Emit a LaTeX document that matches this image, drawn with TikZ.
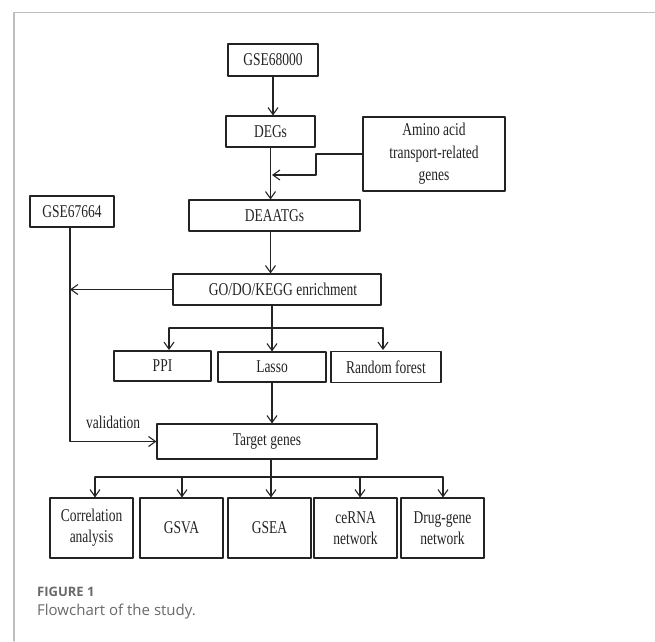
\documentclass[tikz,border=0pt]{standalone}
\usepackage{fontspec}
\setmainfont{Liberation Serif}[FakeStretch=0.75]
\newfontfamily\capfont{Open Sans}
\usetikzlibrary{arrows.meta}
\definecolor{ink}{RGB}{35,35,35}
\definecolor{frame}{RGB}{190,190,190}
\definecolor{capgray}{RGB}{105,105,105}

\begin{document}
\begin{tikzpicture}[x=1pt,y=1pt,line cap=round,line join=round,
  box/.style={draw=ink,line width=1.1pt,text=ink,inner sep=0pt,align=center,
    font=\fontsize{18}{21}\selectfont,minimum height=31pt},
  flow/.style={draw=ink,line width=1.1pt,-{Straight Barb[length=7pt,width=10pt,line width=1.1pt]}},
  link/.style={draw=ink,line width=1.1pt}]
\useasboundingbox (0,0) rectangle (655,641);
\draw[frame,line width=1.2pt] (655,628.5) -- (14,628.5) -- (14,0);
% upper part
\node[box,minimum width=90pt,minimum height=32pt] (gse68) at (273,581) {GSE68000};
\node[box,minimum width=89pt] (degs) at (270.5,509.5) {DEGs};
\node[box,minimum width=142pt,minimum height=74pt,font=\fontsize{18}{22.5}\selectfont] (amino) at (434,487) {Amino acid\\transport-related\\genes};
\node[box,minimum width=171pt] (deaatg) at (274.5,425.5) {DEAATGs};
\node[box,minimum width=84pt] (gse67) at (72,429.5) {GSE67664};
\node[box,minimum width=208pt] (enrich) at (277,351.5) {\hspace{12pt}GO/DO/KEGG enrichment};
\coordinate (join) at (272,466);
\coordinate (bend) at (316,466);
\draw[flow] (gse68.south) -- (gse68.south |- degs.north);
\draw[link] (degs.south) -- (degs.south |- deaatg.north);
\draw[flow] (degs.south |- join) -- (degs.south |- deaatg.north);
\draw[flow] (amino.west) -| (bend) -- (join);
\draw[flow] (deaatg.south -| degs.south) -- (enrich.north -| degs.south);
\draw[flow] (enrich.west) -- (enrich.west -| 70,0);
% selection
\node[box,minimum width=97pt,minimum height=30pt] (ppi) at (162.5,275) {PPI};
\node[box,minimum width=108pt,minimum height=30pt] (lasso) at (272,274) {Lasso};
\node[box,minimum width=110pt,minimum height=31pt] (forest) at (386,274) {Random forest};
\coordinate (fork) at (272,313);
\draw[link] (enrich.south -| fork) -- (fork);
\draw[link] (169,313) -- (383,313);
\draw[flow] (169,313) -- (169,291);
\draw[flow] (fork) -- (fork |- lasso.north);
\draw[flow] (383,313) -- (383,291);
\node[box,minimum width=220pt,minimum height=35pt] (target) at (267,199.5) {Target genes};
\draw[flow] (lasso.south) -- (lasso.south |- target.north);
\draw[flow] (gse67.south -| 70,0) |- (target.west);
\node[font=\fontsize{18}{21}\selectfont,text=ink] (valid) at (113,219) {validation};
% downstream analyses
\node[box,minimum width=83pt,minimum height=60pt] (corr) at (91.5,113) {Correlation\\analysis};
\node[box,minimum width=83pt,minimum height=60pt] (gsva) at (181.5,113) {GSVA};
\node[box,minimum width=83pt,minimum height=60pt] (gsea) at (269.5,113) {GSEA};
\node[box,minimum width=83pt,minimum height=60pt] (cerna) at (355.5,113) {ceRNA\\network};
\node[box,minimum width=83pt,minimum height=60pt] (drug) at (442.5,113) {Drug-gene\\network};
\coordinate (split) at (271,164);
\draw[link] (target.south -| split) -- (split);
\draw[link] (95,164) -- (443,164);
\foreach \xx/\nd in {95/corr,182/gsva,271/gsea,360/cerna,443/drug}
  \draw[flow] (\xx,164) -- (\xx,0 |- \nd.north);
% caption
\node[anchor=west,inner sep=0pt,text=capgray,font=\capfont\bfseries\fontsize{13}{15}\selectfont] (fig) at (37,49) {FIGURE 1};
\node[anchor=west,inner sep=0pt,text=capgray,font=\capfont\fontsize{15}{18}\selectfont] (cap) at (37,29) {Flowchart of the study.};
\end{tikzpicture}
\end{document}
